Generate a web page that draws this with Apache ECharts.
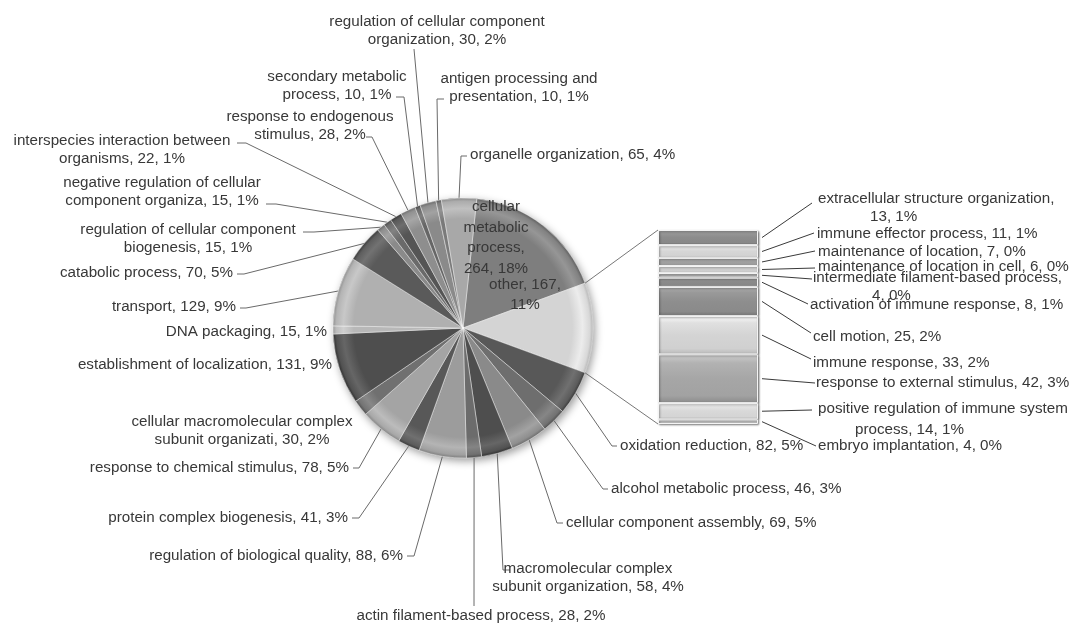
<!DOCTYPE html>
<html><head><meta charset="utf-8">
<script src="https://cdn.jsdelivr.net/npm/echarts@6/dist/echarts.min.js"></script>
<style>html,body{margin:0;padding:0;background:#fff}#c{width:1083px;height:624px}</style>
</head><body><div id="c"></div>
<script>
// ---------------- DATA ----------------
const pieNames = [
  'cellular metabolic process', 'other', 'oxidation reduction', 'alcohol metabolic process',
  'cellular component assembly', 'macromolecular complex subunit organization',
  'actin filament-based process', 'regulation of biological quality', 'protein complex biogenesis',
  'response to chemical stimulus', 'cellular macromolecular complex subunit organizati',
  'establishment of localization', 'DNA packaging', 'transport', 'catabolic process',
  'regulation of cellular component biogenesis', 'negative regulation of cellular component organiza',
  'interspecies interaction between organisms', 'response to endogenous stimulus',
  'secondary metabolic process', 'regulation of cellular component organization',
  'antigen processing and presentation', 'organelle organization'
];
const pieValues = [264, 167, 82, 46, 69, 58, 28, 88, 41, 78, 30, 131, 15, 129, 70, 15, 15, 22, 28, 10, 30, 10, 65];

const barNames = [
  'extracellular structure organization', 'immune effector process', 'maintenance of location',
  'maintenance of location in cell', 'intermediate filament-based process', 'activation of immune response',
  'cell motion', 'immune response', 'response to external stimulus',
  'positive regulation of immune system process', 'embryo implantation'
];
const barValues = [13, 11, 7, 6, 4, 8, 25, 33, 42, 14, 4];

// ---------------- LAYOUT / STYLE ----------------
const PIE = { cx: 463, cy: 328, r: 130 };
const BAR = { left: 658, top: 230, width: 100, height: 194 };
const FONT = '"Liberation Sans", Arial, sans-serif';
const FS = 15.2;
const TXT = '#383838';

const pieColors = ['#7e7e7e', '#d4d4d4', '#585858', '#6e6e6e', '#8a8a8a', '#4e4e4e', '#6c6c6c', '#9c9c9c',
  '#585858', '#a4a4a4', '#707070', '#4e4e4e', '#b8b8b8', '#b0b0b0', '#5a5a5a', '#8a8a8a', '#6a6a6a',
  '#555555', '#8e8e8e', '#666666', '#8a8a8a', '#7a7a7a', '#a8a8a8'];
const barColors = ['#8c8c8c', '#d6d6d6', '#a0a0a0', '#d0d0d0', '#b0b0b0', '#8a8a8a', '#8e8e8e',
  '#d4d4d4', '#a6a6a6', '#d8d8d8', '#c4c4c4'];

const pieLabelLayout = [
  { x: 496, y: 238, align: 'center', wrap: [1, 1, 1, 2], lh: 20.5 },
  { x: 525, y: 295, align: 'center', wrap: [2, 1], lh: 20 },
  { x: 620, y: 446, align: 'left', line: [[612, 446], [617, 446]] },
  { x: 611, y: 489, align: 'left', line: [[603, 489], [608, 489]] },
  { x: 566, y: 523, align: 'left', line: [[557, 523], [563, 523]] },
  { x: 588, y: 578, align: 'center', wrap: [2, 4], line: [[503, 570], [510, 570]] },
  { x: 481, y: 616, align: 'center', line: [[474, 606]] },
  { x: 403, y: 556, align: 'right', line: [[414, 556], [407, 556]] },
  { x: 348, y: 518, align: 'right', line: [[359, 518], [352, 518]] },
  { x: 349, y: 468, align: 'right', line: [[359, 468], [353, 468]] },
  { x: 242, y: 431, align: 'center', wrap: [3, 4] },
  { x: 332, y: 365, align: 'right' },
  { x: 327, y: 332, align: 'right' },
  { x: 236, y: 307, align: 'right', line: [[246, 308], [240, 308]] },
  { x: 233, y: 273, align: 'right', line: [[244, 274], [237, 274]] },
  { x: 188, y: 239, align: 'center', wrap: [4, 3], line: [[314, 232], [303, 232]] },
  { x: 162, y: 192, align: 'center', wrap: [4, 4], line: [[276, 204], [266, 204]] },
  { x: 122, y: 150, align: 'center', wrap: [3, 3], line: [[246, 143], [237, 143]] },
  { x: 310, y: 126, align: 'center', wrap: [3, 3], line: [[372, 137], [366, 137]] },
  { x: 337, y: 86, align: 'center', wrap: [2, 3], line: [[404, 97], [396, 97]] },
  { x: 437, y: 31, align: 'center', wrap: [4, 3], line: [[414, 49]] },
  { x: 519, y: 88, align: 'center', wrap: [3, 3], line: [[437, 99], [444, 99]] },
  { x: 470, y: 155, align: 'left', line: [[461, 156], [467, 156]] }
];
const barLabelLayout = [
  { x: 818, y: 208, wrap: [3, 2], indent: 52, end: [812, 203] },
  { x: 817, y: 234, end: [814, 233] },
  { x: 818, y: 252, end: [815, 251] },
  { x: 818, y: 267, end: [815, 268] },
  { x: 813, y: 287, wrap: [3, 2], indent: 59, end: [812, 279] },
  { x: 810, y: 305, end: [808, 304] },
  { x: 813, y: 337, end: [811, 333] },
  { x: 813, y: 363, end: [811, 359] },
  { x: 816, y: 383, end: [815, 383] },
  { x: 818, y: 419, wrap: [5, 3], indent: 37, end: [812, 410], lh: 21 },
  { x: 818, y: 446, end: [816, 446] }
];

// ---------------- HELPERS ----------------
const total = pieValues.reduce((a, b) => a + b, 0);
const barTotal = barValues.reduce((a, b) => a + b, 0);
const pct = v => Math.round(v / total * 100);
function shade(hex, amt) {
  const n = parseInt(hex.slice(1), 16);
  const f = c => Math.max(0, Math.min(255, Math.round(c + amt)));
  const r = f(n >> 16), g = f((n >> 8) & 255), b = f(n & 255);
  return 'rgb(' + r + ',' + g + ',' + b + ')';
}
function splitLines(name, value, wrap) {
  const words = (name + ', ' + value + ', ' + pct(value) + '%').split(' ');
  if (!wrap) return [words.join(' ')];
  const out = []; let i = 0;
  wrap.forEach(n => { out.push(words.slice(i, i + n).join(' ')); i += n; });
  return out;
}
// first slice placed so that the "other" slice is centred at 3 o'clock
const startAngle = (pieValues[0] + pieValues[1] / 2) / total * 360;
const cumPie = []; { let c = 0; pieValues.forEach(v => { cumPie.push(c); c += v; }); }
function pieAngle(val) { return 90 - startAngle + val / total * 360; } // clockwise from 12 o'clock
function piePoint(deg) {
  const a = deg * Math.PI / 180;
  return [PIE.cx + PIE.r * Math.sin(a), PIE.cy - PIE.r * Math.cos(a)];
}

const pieData = pieNames.map((n, i) => {
  const c = pieColors[i];
  const L = pieLabelLayout[i];
  return {
    name: n, value: pieValues[i],
    itemStyle: {
      color: {
        type: 'radial', x: PIE.cx, y: PIE.cy, r: PIE.r, global: true,
        colorStops: [
          { offset: 0, color: shade(c, 0) }, { offset: 0.84, color: shade(c, 0) },
          { offset: 0.92, color: shade(c, 24) }, { offset: 0.975, color: shade(c, 4) },
          { offset: 1, color: shade(c, -30) }
        ]
      }
    },
    label: L.lh ? { lineHeight: L.lh } : {},
    labelLine: { show: !!L.line }
  };
});

const barSeries = barNames.map((n, i) => {
  const L = barLabelLayout[i];
  const lh = L.lh || 18.5;
  const lines = splitLines(n, barValues[i], L.wrap);
  const txt = lines.length > 1 ? '{a|' + lines[0] + '}\n{b|' + lines[1] + '}' : '{a|' + lines[0] + '}';
  const c = barColors[i];
  return {
    type: 'bar', name: n, stack: 'other', data: [barValues[i]], barWidth: BAR.width,
    silent: true, z: 3,
    itemStyle: {
      color: {
        type: 'linear', x: 0, y: 0, x2: 0, y2: 1,
        colorStops: [
          { offset: 0, color: shade(c, 40) }, { offset: 0.18, color: shade(c, 12) },
          { offset: 0.5, color: shade(c, 0) }, { offset: 0.85, color: shade(c, -4) },
          { offset: 1, color: shade(c, -28) }
        ]
      },
      borderColor: '#f4f4f4', borderWidth: 1,
      shadowBlur: 2, shadowColor: 'rgba(0,0,0,0.45)', shadowOffsetX: 1, shadowOffsetY: 1
    },
    label: {
      show: true, position: 'right', formatter: txt,
      rich: {
        a: { fontFamily: FONT, fontSize: FS, color: TXT, lineHeight: lh },
        b: { fontFamily: FONT, fontSize: FS, color: TXT, lineHeight: lh, padding: [0, 0, 0, L.indent || 0] }
      }
    },
    labelLayout: () => ({ x: L.x, y: L.y, align: 'left', verticalAlign: 'middle' })
  };
});

const chart = echarts.init(document.getElementById('c'), null, { renderer: 'canvas' });
chart.setOption({
  animation: false,
  backgroundColor: '#ffffff',
  grid: { left: BAR.left, top: BAR.top, width: BAR.width, height: BAR.height, containLabel: false },
  xAxis: { type: 'category', data: ['other'], show: false },
  yAxis: { type: 'value', min: 0, max: barTotal, inverse: true, show: false },
  series: [
    {
      type: 'pie', center: [PIE.cx, PIE.cy], radius: PIE.r, silent: true, z: 1,
      data: [{ value: 1, itemStyle: { color: '#808080', shadowBlur: 8, shadowOffsetX: 2, shadowOffsetY: 3, shadowColor: 'rgba(0,0,0,0.4)' } }],
      label: { show: false }, labelLine: { show: false }
    },
    {
      type: 'pie', center: [PIE.cx, PIE.cy], radius: PIE.r, startAngle: startAngle, clockwise: true,
      avoidLabelOverlap: false, silent: true, z: 2,
      itemStyle: { borderColor: 'rgba(255,255,255,0.55)', borderWidth: 0.8 },
      data: pieData,
      label: {
        show: true, position: 'outside', fontFamily: FONT, fontSize: FS, color: TXT, lineHeight: 18.5,
        formatter: p => splitLines(p.name, p.value, pieLabelLayout[p.dataIndex].wrap).join('\n')
      },
      labelLine: { show: true, smooth: false, length: 8, length2: 8, lineStyle: { color: '#6a6a6a', width: 1 } },
      labelLayout: p => {
        const L = pieLabelLayout[p.dataIndex];
        const mid = pieAngle(cumPie[p.dataIndex] + pieValues[p.dataIndex] / 2);
        const res = { x: L.x, y: L.y, align: L.align, verticalAlign: 'middle' };
        if (L.line) res.labelLinePoints = [piePoint(mid)].concat(L.line);
        return res;
      }
    }
  ].concat(barSeries)
});

// connector lines and bar leader lines, derived from the pie geometry and the bar's value axis
const gfx = [];
const aS = pieAngle(cumPie[1]), aE = pieAngle(cumPie[1] + pieValues[1]);
const barTopY = chart.convertToPixel({ yAxisIndex: 0 }, 0);
const barBotY = chart.convertToPixel({ yAxisIndex: 0 }, barTotal);
const barCx = chart.convertToPixel({ xAxisIndex: 0 }, 0);
const barLeft = barCx - BAR.width / 2, barRight = barCx + BAR.width / 2;
const lineStyle = { stroke: '#777777', lineWidth: 1 };
gfx.push({ type: 'polyline', silent: true, z: 5, shape: { points: [piePoint(aS), [barLeft, barTopY]] }, style: lineStyle });
gfx.push({ type: 'polyline', silent: true, z: 5, shape: { points: [piePoint(aE), [barLeft, barBotY]] }, style: lineStyle });
let cum = 0;
barValues.forEach((v, i) => {
  const y = chart.convertToPixel({ yAxisIndex: 0 }, cum + v / 2);
  cum += v;
  gfx.push({ type: 'polyline', silent: true, z: 5,
    shape: { points: [[barRight + 4, y], barLabelLayout[i].end] },
    style: { stroke: '#3a3a3a', lineWidth: 1 } });
});
chart.setOption({ graphic: gfx });
</script>
</body></html>
